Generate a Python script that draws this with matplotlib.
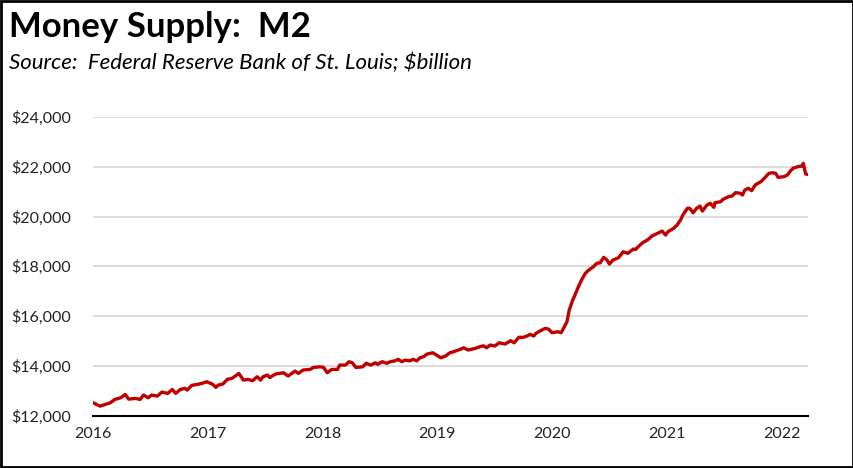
import matplotlib
matplotlib.use("Agg")
import matplotlib.pyplot as plt
from matplotlib.ticker import FuncFormatter, FixedLocator

# Decimal-year positions and M2 values ($billion)
years = [
    2016.00, 2016.06, 2016.15, 2016.19, 2016.24, 2016.28, 2016.31, 2016.37, 2016.41, 2016.44,
    2016.48, 2016.51, 2016.56, 2016.60, 2016.65, 2016.69, 2016.72, 2016.76, 2016.80, 2016.82,
    2016.86, 2016.91, 2016.95, 2016.99, 2017.04, 2017.07, 2017.09, 2017.13, 2017.17, 2017.21,
    2017.24, 2017.27, 2017.31, 2017.35, 2017.39, 2017.43, 2017.46, 2017.48, 2017.52, 2017.54,
    2017.59, 2017.66, 2017.70, 2017.76, 2017.79, 2017.83, 2017.89, 2017.92, 2017.98, 2018.01,
    2018.04, 2018.08, 2018.13, 2018.15, 2018.20, 2018.23, 2018.26, 2018.29, 2018.35, 2018.38,
    2018.42, 2018.46, 2018.48, 2018.52, 2018.56, 2018.59, 2018.63, 2018.66, 2018.69, 2018.72,
    2018.76, 2018.79, 2018.82, 2018.85, 2018.88, 2018.91, 2018.96, 2018.98, 2019.03, 2019.07,
    2019.11, 2019.14, 2019.20, 2019.23, 2019.27, 2019.33, 2019.37, 2019.40, 2019.43, 2019.46,
    2019.50, 2019.54, 2019.59, 2019.64, 2019.67, 2019.71, 2019.75, 2019.78, 2019.81, 2019.84,
    2019.86, 2019.90, 2019.94, 2019.97, 2020.00, 2020.05, 2020.08, 2020.10, 2020.13, 2020.15,
    2020.18, 2020.20, 2020.23, 2020.26, 2020.29, 2020.32, 2020.36, 2020.39, 2020.42, 2020.45,
    2020.48, 2020.50, 2020.53, 2020.58, 2020.62, 2020.66, 2020.71, 2020.73, 2020.75, 2020.79,
    2020.84, 2020.87, 2020.93, 2020.96, 2020.99, 2021.01, 2021.06, 2021.09, 2021.12, 2021.14,
    2021.18, 2021.20, 2021.23, 2021.26, 2021.29, 2021.31, 2021.35, 2021.38, 2021.41, 2021.42,
    2021.47, 2021.49, 2021.54, 2021.57, 2021.60, 2021.64, 2021.66, 2021.68, 2021.71, 2021.74,
    2021.77, 2021.82, 2021.85, 2021.89, 2021.92, 2021.95, 2021.97, 2022.02, 2022.05, 2022.08,
    2022.10, 2022.14, 2022.18, 2022.19, 2022.21, 2022.23,
]
m2 = [
    12515, 12380, 12515, 12650, 12715, 12850, 12660, 12690, 12650, 12825,
    12715, 12825, 12785, 12945, 12890, 13050, 12890, 13050, 13095, 13025,
    13215, 13255, 13295, 13360, 13265, 13135, 13225, 13265, 13455, 13495,
    13590, 13695, 13425, 13455, 13400, 13560, 13425, 13560, 13630, 13530,
    13670, 13720, 13590, 13790, 13695, 13830, 13855, 13935, 13960, 13935,
    13720, 13855, 13855, 14030, 14030, 14165, 14120, 13935, 13960, 14100,
    14030, 14120, 14060, 14165, 14100, 14165, 14200, 14260, 14165, 14230,
    14200, 14260, 14200, 14325, 14365, 14470, 14525, 14470, 14325, 14390,
    14525, 14565, 14660, 14725, 14635, 14700, 14765, 14805, 14725, 14835,
    14795, 14925, 14875, 15010, 14925, 15145, 15145, 15195, 15265, 15195,
    15305, 15410, 15505, 15475, 15330, 15370, 15330, 15505, 15770, 16240,
    16640, 16845, 17180, 17475, 17715, 17850, 17980, 18120, 18140, 18360,
    18250, 18090, 18250, 18345, 18585, 18520, 18695, 18680, 18785, 18945,
    19085, 19215, 19350, 19415, 19255, 19390, 19525, 19660, 19860, 20060,
    20330, 20330, 20150, 20330, 20420, 20220, 20460, 20530, 20370, 20555,
    20595, 20690, 20800, 20825, 20960, 20935, 20865, 21065, 21135, 21040,
    21265, 21400, 21535, 21735, 21760, 21735, 21575, 21600, 21665, 21840,
    21935, 22000, 22030, 22140, 21710, 21690,
]

title = "Money Supply:  M2"
subtitle = "Source:  Federal Reserve Bank of St. Louis; $billion"
x_ticks = [2016, 2017, 2018, 2019, 2020, 2021, 2022]
y_ticks = [12000, 14000, 16000, 18000, 20000, 22000, 24000]

plt.rcParams['font.family'] = ['Lato', 'DejaVu Sans']

fig = plt.figure(figsize=(8.54, 4.68), dpi=100)
ax = fig.add_axes([0.109, 0.112, 0.837, 0.638])

ax.plot(years, m2, color='#C00000', linewidth=2.4, solid_joinstyle='round', zorder=3)

ax.set_xlim(2016.0, 2022.23)
ax.set_ylim(12000, 24000)
ax.yaxis.set_major_locator(FixedLocator(y_ticks))
ax.xaxis.set_major_locator(FixedLocator(x_ticks))
ax.yaxis.set_major_formatter(FuncFormatter(lambda v, p: f"${v:,.0f}"))
ax.xaxis.set_major_formatter(FuncFormatter(lambda v, p: f"{int(v)}"))

ax.grid(axis='y', color='#d9d9d9', linewidth=1.3, zorder=0)
for s in ['top', 'right', 'left']:
    ax.spines[s].set_visible(False)
ax.spines['bottom'].set_color('black')
ax.spines['bottom'].set_linewidth(1.5)
ax.spines['bottom'].set_zorder(4)
ax.tick_params(axis='both', length=0, labelsize=11.5, colors='#222222')
ax.tick_params(axis='y', pad=16)
ax.tick_params(axis='x', pad=8)

fig.text(0.010, 0.922, title, fontsize=25, fontweight='bold', ha='left', va='baseline', color='black')
fig.text(0.010, 0.852, subtitle, fontsize=16, fontstyle='italic', ha='left', va='baseline', color='black')

# figure border
border = plt.Rectangle((0.0015, 0.0025), 0.997, 0.995, transform=fig.transFigure,
                       fill=False, edgecolor='black', linewidth=2.0)
fig.patches.append(border)

fig.savefig("out.png", dpi=100, facecolor='white')
